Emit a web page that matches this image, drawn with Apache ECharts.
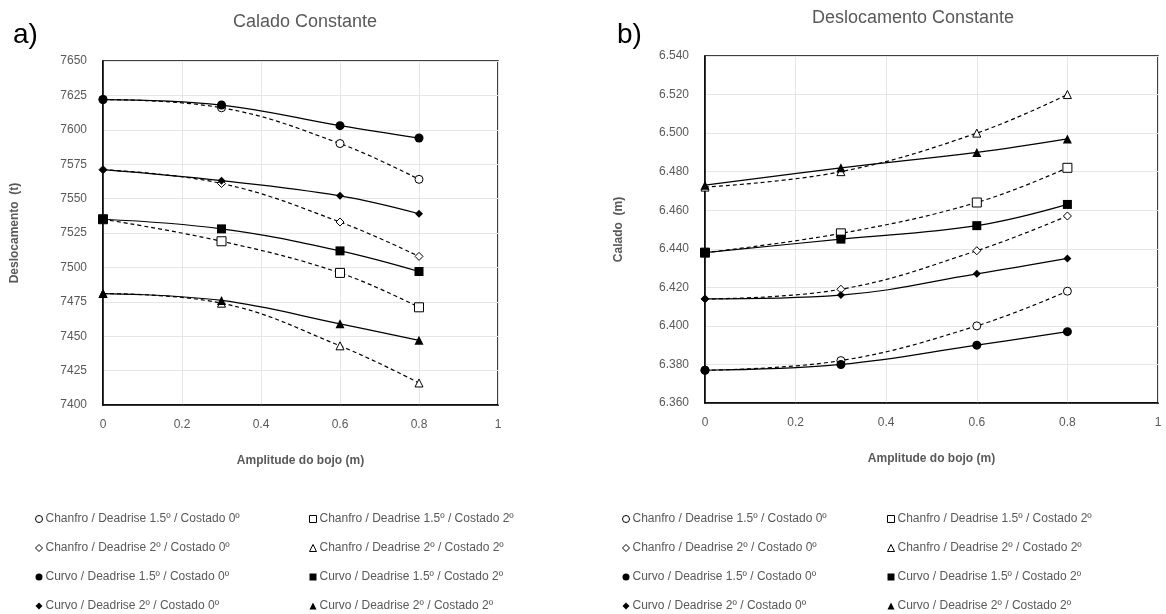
<!DOCTYPE html>
<html>
<head>
<meta charset="utf-8">
<script src="https://cdn.jsdelivr.net/npm/echarts@6/dist/echarts.min.js"></script>
<style>
  html, body { margin: 0; padding: 0; background: #fff; }
  #chart { width: 1166px; height: 614px; }
</style>
</head>
<body>
<div id="chart"></div>
<script>
// amplitude do bojo (m)
const amplitude = [0, 0.3, 0.6, 0.8]

const names = [
  'Chanfro / Deadrise 1.5º / Costado 0º',
  'Chanfro / Deadrise 2º / Costado 0º',
  'Curvo / Deadrise 1.5º / Costado 0º',
  'Curvo / Deadrise 2º / Costado 0º',
  'Chanfro / Deadrise 1.5º / Costado 2º',
  'Chanfro / Deadrise 2º / Costado 2º',
  'Curvo / Deadrise 1.5º / Costado 2º',
  'Curvo / Deadrise 2º / Costado 2º'
]

// a) Calado constante -> deslocamento (t)
const deslChanfro15c0 = [7622, 7616, 7590, 7564]
const deslChanfro2c0 = [7571, 7561, 7533, 7508]
const deslCurvo15c0 = [7622, 7618, 7603, 7594]
const deslCurvo2c0 = [7571, 7563, 7552, 7539]
const deslChanfro15c2 = [7535, 7519, 7496, 7471]
const deslChanfro2c2 = [7481, 7474, 7443, 7416]
const deslCurvo15c2 = [7535, 7528, 7512, 7497]
const deslCurvo2c2 = [7481, 7476, 7459, 7447]

// b) Deslocamento constante -> calado (m)
const calChanfro15c0 = [6.377, 6.382, 6.400, 6.418]
const calChanfro2c0 = [6.414, 6.419, 6.439, 6.457]
const calCurvo15c0 = [6.377, 6.380, 6.390, 6.397]
const calCurvo2c0 = [6.414, 6.416, 6.427, 6.435]
const calChanfro15c2 = [6.438, 6.448, 6.464, 6.482]
const calChanfro2c2 = [6.472, 6.480, 6.500, 6.520]
const calCurvo15c2 = [6.438, 6.445, 6.452, 6.463]
const calCurvo2c2 = [6.473, 6.482, 6.490, 6.497]

const deslData = [deslChanfro15c0, deslChanfro2c0, deslCurvo15c0, deslCurvo2c0,
  deslChanfro15c2, deslChanfro2c2, deslCurvo15c2, deslCurvo2c2]
const calData = [calChanfro15c0, calChanfro2c0, calCurvo15c0, calCurvo2c0,
  calChanfro15c2, calChanfro2c2, calCurvo15c2, calCurvo2c2]

const symbols = ['circle', 'diamond', 'circle', 'diamond', 'rect', 'triangle', 'rect', 'triangle']
const sizes = [8, 8, 9, 8, 9, 8, 9, 9]
const isOpen = (i) => names[i].startsWith('Chanfro')

const font = 'Liberation Sans'
const grey = '#595959'

const chart = echarts.init(document.getElementById('chart'))

const buildSeries = (data, axisIdx) => {
  // open (dashed) first, filled (solid) drawn on top
  const order = [0, 1, 4, 5, 2, 3, 6, 7]
  return order.map(i => ({
    name: names[i],
    type: 'line',
    xAxisIndex: axisIdx,
    yAxisIndex: axisIdx,
    data: amplitude.map((x, k) => [x, data[i][k]]),
    smooth: 0.4,
    symbol: symbols[i],
    symbolSize: sizes[i],
    showAllSymbol: true,
    lineStyle: {
      color: '#000',
      width: 1.2,
      type: isOpen(i) ? [4, 3] : 'solid'
    },
    itemStyle: isOpen(i)
      ? { color: '#fff', borderColor: '#000', borderWidth: 1 }
      : { color: '#000', borderColor: '#000', borderWidth: 0 },
    z: isOpen(i) ? 2 : 3
  }))
}

const legendItem = (i) => ({
  name: names[i],
  icon: symbols[i],
  itemStyle: isOpen(i)
    ? { color: '#fff', borderColor: '#000', borderWidth: 1 }
    : { color: '#000', borderColor: '#000', borderWidth: 0 }
})

const makeLegend = (left, idx) => ({
  orient: 'vertical',
  left: left,
  top: 508,
  height: 110,
  itemWidth: 7,
  itemHeight: 7,
  itemGap: 17,
  selectedMode: false,
  textStyle: { fontFamily: font, fontSize: 12, color: grey, padding: [0, 0, 0, -2] },
  data: idx.map(legendItem)
})

const xAxisCommon = {
  type: 'value',
  min: 0,
  max: 1,
  interval: 0.2,
  name: 'Amplitude do bojo (m)',
  nameLocation: 'middle',
  nameGap: 50,
  nameTextStyle: { fontFamily: font, fontSize: 12, fontWeight: 'bold', color: grey },
  axisLine: { show: true, lineStyle: { color: '#000', width: 1.5 } },
  axisTick: { show: false },
  axisLabel: { fontFamily: font, fontSize: 12, color: grey, margin: 14 },
  splitLine: { show: true, lineStyle: { color: '#e6e6e6' } }
}

const option = {
  animation: false,
  backgroundColor: '#fff',
  title: [
    { text: 'Calado Constante', left: 300, top: 8, textAlign: 'center',
      textStyle: { fontFamily: font, fontSize: 18, fontWeight: 'normal', color: grey } },
    { text: 'Deslocamento Constante', left: 908, top: 4, textAlign: 'center',
      textStyle: { fontFamily: font, fontSize: 18, fontWeight: 'normal', color: grey } },
    { text: 'a)', left: 8, top: 16,
      textStyle: { fontFamily: font, fontSize: 28, fontWeight: 'normal', color: '#000' } },
    { text: 'b)', left: 612, top: 16,
      textStyle: { fontFamily: font, fontSize: 28, fontWeight: 'normal', color: '#000' } }
  ],
  legend: [
    makeLegend(30, [0, 1, 2, 3]),
    makeLegend(304, [4, 5, 6, 7]),
    makeLegend(617, [0, 1, 2, 3]),
    makeLegend(882, [4, 5, 6, 7])
  ],
  grid: [
    { left: 103, top: 61, width: 395, height: 344, show: true,
      borderColor: '#000', borderWidth: 1.5, backgroundColor: 'transparent' },
    { left: 705, top: 56, width: 453, height: 347, show: true,
      borderColor: '#000', borderWidth: 1.5, backgroundColor: 'transparent' }
  ],
  xAxis: [
    Object.assign({ gridIndex: 0 }, xAxisCommon),
    Object.assign({ gridIndex: 1 }, xAxisCommon)
  ],
  yAxis: [
    {
      gridIndex: 0,
      type: 'value',
      min: 7400,
      max: 7650,
      interval: 25,
      name: 'Deslocamento  (t)',
      nameLocation: 'middle',
      nameGap: 82,
      nameTextStyle: { fontFamily: font, fontSize: 12, fontWeight: 'bold', color: grey },
      axisLine: { show: true, lineStyle: { color: '#000', width: 1.5 } },
      axisTick: { show: false },
      axisLabel: { fontFamily: font, fontSize: 12, color: grey, margin: 16,
        formatter: (v) => String(v) },
      splitLine: { show: true, lineStyle: { color: '#e6e6e6' } }
    },
    {
      gridIndex: 1,
      type: 'value',
      min: 6.36,
      max: 6.54,
      interval: 0.02,
      name: 'Calado  (m)',
      nameLocation: 'middle',
      nameGap: 80,
      nameTextStyle: { fontFamily: font, fontSize: 12, fontWeight: 'bold', color: grey },
      axisLine: { show: true, lineStyle: { color: '#000', width: 1.5 } },
      axisTick: { show: false },
      axisLabel: {
        fontFamily: font, fontSize: 12, color: grey, margin: 16,
        formatter: (v) => v.toFixed(3)
      },
      splitLine: { show: true, lineStyle: { color: '#e6e6e6' } }
    }
  ],
  series: buildSeries(deslData, 0).concat(buildSeries(calData, 1))
}

chart.setOption(option)
</script>
</body>
</html>
